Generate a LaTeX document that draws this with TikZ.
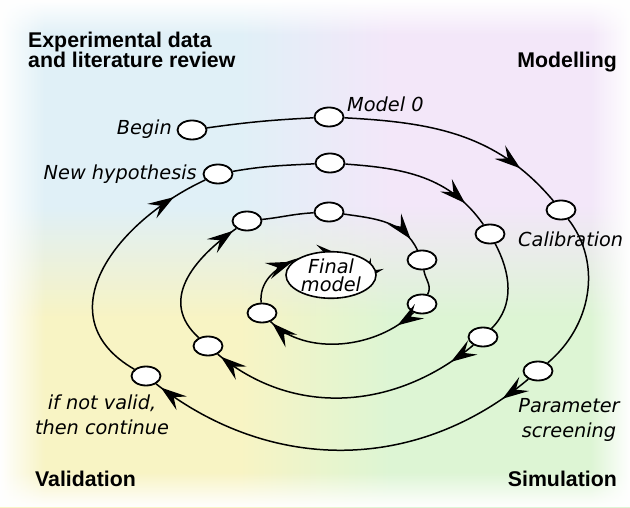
\documentclass[tikz,border=0pt]{standalone}
\usepackage{fontspec}
\setmainfont{DejaVu Sans}
\newfontfamily\headfont{Liberation Sans}
\usetikzlibrary{shapes.geometric, arrows.meta, decorations.markings, fadings}

\definecolor{bgblue}{HTML}{E0F0F7}
\definecolor{bglilac}{HTML}{F3E7F9}
\definecolor{bgyellow}{HTML}{F8F4C4}
\definecolor{bggreen}{HTML}{DDF5D4}

\pgfdeclarehorizontalshading{upperband}{100bp}{color(0bp)=(bgblue); color(44bp)=(bgblue); color(56bp)=(bglilac); color(100bp)=(bglilac)}
\pgfdeclarehorizontalshading{lowerband}{100bp}{color(0bp)=(bgyellow); color(44bp)=(bgyellow); color(56bp)=(bggreen); color(100bp)=(bggreen)}
\tikzfading[name=fadeup, top color=transparent!100, bottom color=transparent!0]
\tikzfading[name=fadedown, top color=transparent!0, bottom color=transparent!100]
\tikzfading[name=edgeleft, left color=transparent!0, right color=transparent!100]
\tikzfading[name=edgeright, left color=transparent!100, right color=transparent!0]

\tikzset{
  stage/.style={ellipse, draw, fill=white, line width=1.8pt, minimum width=29pt, minimum height=19pt, inner sep=0pt},
  flow/.style={line width=1.5pt},
  arrowat/.style={postaction={decorate}, decoration={markings, mark=at position #1 with {\arrow{Stealth[length=26pt, width=17pt, inset=10pt]}}}},
  arrowsat/.style 2 args={postaction={decorate}, decoration={markings,
    mark=at position #1 with {\arrow{Stealth[length=26pt, width=17pt, inset=10pt]}},
    mark=at position #2 with {\arrow{Stealth[length=26pt, width=17pt, inset=10pt]}}}},
  steplabel/.style={font=\fontsize{19.3}{24.5}\selectfont\itshape, inner sep=0pt, align=center},
  phase/.style={font=\headfont\fontsize{21.3}{20}\selectfont\bfseries, inner sep=0pt, align=left}
}

\begin{document}
\begin{tikzpicture}[x=1pt, y=1pt]
  \useasboundingbox (0,0) rectangle (630,507);
  \shade[shading=upperband] (0,190) rectangle (630,507);
  \shade[shading=lowerband] (0,0) rectangle (630,190);
  \shade[shading=lowerband, path fading=fadeup] (0,190) rectangle (630,300);
  \fill[white, path fading=edgeleft] (0,0) rectangle (45,507);
  \fill[white, path fading=edgeright] (590,0) rectangle (630,507);
  \fill[white, path fading=fadedown] (0,472) rectangle (630,507);
  \fill[white, path fading=fadeup] (0,0) rectangle (630,35);

  \node[stage] (b0) at (192,377) {};
  \node[stage] (m0) at (329,390) {};
  \node[stage] (c0) at (561,297) {};
  \node[stage] (p0) at (538,136) {};
  \node[stage] (v0) at (146,131) {};
  \node[stage] (h1) at (218,333) {};
  \node[stage] (m1) at (330,344) {};
  \node[stage] (c1) at (490,273) {};
  \node[stage] (p1) at (483,170) {};
  \node[stage] (v1) at (208,161) {};
  \node[stage] (h2) at (247,286) {};
  \node[stage] (m2) at (329,295) {};
  \node[stage] (c2) at (422,247) {};
  \node[stage] (p2) at (422,203) {};
  \node[stage] (v2) at (262,194) {};

  \draw[flow, arrowsat={0.55}{0.97}] (286,244) .. controls (305,252) and (335,254) .. (352,250) .. controls (366,246) and (368,230) .. (358,222);
  \node[ellipse, draw, fill=white, line width=1.6pt, minimum width=90pt, minimum height=44pt, steplabel, font=\fontsize{19.3}{18}\selectfont\itshape] (fin) at (331,232) {Final\\model};

  \draw[flow] (b0) to[out=8, in=183] (m0);
  \draw[flow, arrowat=0.8] (m0) to[out=-3, in=130] (c0);
  \draw[flow] (c0) to[out=-52, in=40] (p0);
  \draw[flow, arrowsat={0.08}{0.985}] (p0) to[out=-140, in=-38] (v0);
  \draw[flow, arrowat=0.86] (v0) to[out=150, in=205, looseness=1.3] (h1);

  \draw[flow] (h1) to[out=10, in=183] (m1);
  \draw[flow, arrowat=0.82] (m1) to[out=-4, in=125] (c1);
  \draw[flow] (c1) to[out=-62, in=45] (p1);
  \draw[flow, arrowsat={0.1}{0.985}] (p1) to[out=-140, in=-40] (v1);
  \draw[flow, arrowat=0.97] (v1) to[out=138, in=215, looseness=1.2] (h2);

  \draw[flow] (h2) to[out=6, in=183] (m2);
  \draw[flow, arrowat=0.85] (m2) to[out=-8, in=115] (c2);
  \draw[flow] (c2) to[out=-80, in=60] (p2);
  \draw[flow, arrowsat={0.13}{0.985}] (p2) to[out=-135, in=-45, looseness=0.9] (v2);
  \draw[flow, arrowat=0.98] (v2) to[out=95, in=200] (fin.160);

  \node[steplabel, anchor=base east] (lbegin) at (172,372) {Begin};
  \node[steplabel, anchor=base west] (lmodel) at (347,395) {Model 0};
  \node[steplabel, anchor=base east] (lhyp) at (197,327) {New hypothesis};
  \node[steplabel, anchor=base west] (lcalib) at (518,260) {Calibration};
  \node[steplabel] (lscreen) at (569,87) {Parameter\\screening};
  \node[steplabel] (lvalid) at (102,92) {if not valid,\\then continue};

  \node[phase, anchor=west] (hdata) at (28,457) {Experimental data\\and literature review};
  \node[phase, anchor=base east] (hmodel) at (617,439) {Modelling};
  \node[phase, anchor=base west] (hvalid) at (35,21) {Validation};
  \node[phase, anchor=base east] (hsim) at (617,21) {Simulation};
\end{tikzpicture}
\end{document}
